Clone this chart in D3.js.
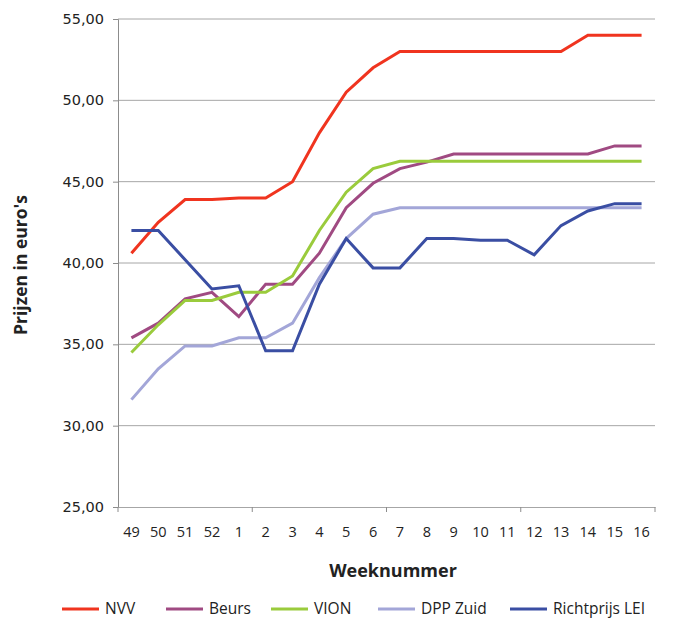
<!DOCTYPE html>
<html>
<head>
<meta charset="utf-8">
<script src="https://cdn.jsdelivr.net/npm/d3@7"></script>
<style>
  body { margin: 0; background: #fff; }
  text { font-family: "Open Sans", sans-serif; fill: #222; }
</style>
</head>
<body>
<svg id="chart"></svg>
<script>
const weeks = ["49", "50", "51", "52", "1", "2", "3", "4", "5", "6", "7", "8", "9", "10", "11", "12", "13", "14", "15", "16"];

const nvv      = [40.6, 42.5, 43.9, 43.9, 44.0, 44.0, 45.0, 48.0, 50.5, 52.0, 53.0, 53.0, 53.0, 53.0, 53.0, 53.0, 53.0, 54.0, 54.0, 54.0];
const beurs    = [35.4, 36.3, 37.8, 38.2, 36.7, 38.7, 38.7, 40.6, 43.4, 44.9, 45.8, 46.2, 46.7, 46.7, 46.7, 46.7, 46.7, 46.7, 47.2, 47.2];
const vion     = [34.5, 36.2, 37.7, 37.7, 38.2, 38.2, 39.2, 42.0, 44.35, 45.8, 46.25, 46.25, 46.25, 46.25, 46.25, 46.25, 46.25, 46.25, 46.25, 46.25];
const dppZuid  = [31.6, 33.5, 34.9, 34.9, 35.4, 35.4, 36.3, 39.1, 41.5, 43.0, 43.4, 43.4, 43.4, 43.4, 43.4, 43.4, 43.4, 43.4, 43.4, 43.4];
const richtLei = [42.0, 42.0, 40.2, 38.4, 38.6, 34.6, 34.6, 38.7, 41.5, 39.7, 39.7, 41.5, 41.5, 41.4, 41.4, 40.5, 42.3, 43.2, 43.65, 43.65];

const seriesNames = ["NVV", "Beurs", "VION", "DPP Zuid", "Richtprijs LEI"];
const seriesColors = ["#f0341f", "#a04a82", "#9acb3c", "#a3a6d8", "#3a4ea3"];
const seriesValues = [nvv, beurs, vion, dppZuid, richtLei];

const yTicks = [25, 30, 35, 40, 45, 50, 55];

const width = 678, height = 619;
const margin = { top: 19, right: 23, bottom: 112, left: 118 };

const svg = d3.select("#chart").attr("width", width).attr("height", height);

const x = d3.scaleBand()
  .domain(weeks)
  .range([margin.left, width - margin.right]);

const y = d3.scaleLinear()
  .domain([25, 55])
  .range([height - margin.bottom, margin.top]);

const fmt = v => d3.format(".2f")(v).replace(".", ",");

// gridlines
svg.append("g")
  .selectAll("line")
  .data(yTicks.slice(1))
  .join("line")
  .attr("x1", margin.left)
  .attr("x2", width - margin.right)
  .attr("y1", d => y(d))
  .attr("y2", d => y(d))
  .attr("stroke", "#a6a6a6")
  .attr("stroke-width", 1);

// y axis
const yAxis = svg.append("g")
  .attr("transform", `translate(${margin.left},0)`)
  .call(d3.axisLeft(y).tickValues(yTicks).tickFormat(fmt).tickSize(5).tickPadding(9));
yAxis.selectAll("path, line").attr("stroke", "#8c8c8c");
yAxis.selectAll("text")
  .style("font-family", "'DejaVu Sans', sans-serif")
  .style("font-size", "14.5px")
  .attr("fill", "#222");

// x axis: ticks every five weeks
const xAxis = svg.append("g")
  .attr("transform", `translate(0,${height - margin.bottom})`)
  .call(d3.axisBottom(x).tickSize(0).tickPadding(20));
xAxis.select(".domain").attr("stroke", "#a6a6a6");
xAxis.selectAll("text").style("font-size", "14.5px").attr("fill", "#222");

const tickPos = d3.range(0, weeks.length + 1, 5).map(i => margin.left + i * x.step());
svg.append("g")
  .selectAll("line")
  .data(tickPos)
  .join("line")
  .attr("x1", d => d).attr("x2", d => d)
  .attr("y1", height - margin.bottom)
  .attr("y2", height - margin.bottom + 5)
  .attr("stroke", "#8c8c8c");

// lines
const line = d3.line()
  .x((d, i) => x(weeks[i]) + x.bandwidth() / 2)
  .y(d => y(d));

svg.append("g")
  .selectAll("path")
  .data(seriesValues)
  .join("path")
  .attr("d", d => line(d))
  .attr("fill", "none")
  .attr("stroke", (d, i) => seriesColors[i])
  .attr("stroke-width", 3)
  .attr("stroke-linejoin", "miter");

// axis titles
svg.append("text")
  .attr("x", 393)
  .attr("y", 577)
  .attr("text-anchor", "middle")
  .style("font-weight", "bold")
  .style("font-size", "18px")
  .text("Weeknummer");

svg.append("text")
  .attr("transform", "translate(27,265) rotate(-90)")
  .attr("text-anchor", "middle")
  .style("font-weight", "bold")
  .style("font-size", "17.5px")
  .text("Prijzen in euro's");

// legend
const legendX = [62, 166, 271, 378, 510];
const legend = svg.append("g")
  .selectAll("g")
  .data(seriesNames)
  .join("g")
  .attr("transform", (d, i) => `translate(${legendX[i]},609)`);

legend.append("line")
  .attr("x1", 0).attr("x2", 37)
  .attr("stroke", (d, i) => seriesColors[i])
  .attr("stroke-width", 3);

legend.append("text")
  .attr("x", 43)
  .attr("dy", "0.35em")
  .style("font-size", "15.5px")
  .text(d => d);
</script>
</body>
</html>
